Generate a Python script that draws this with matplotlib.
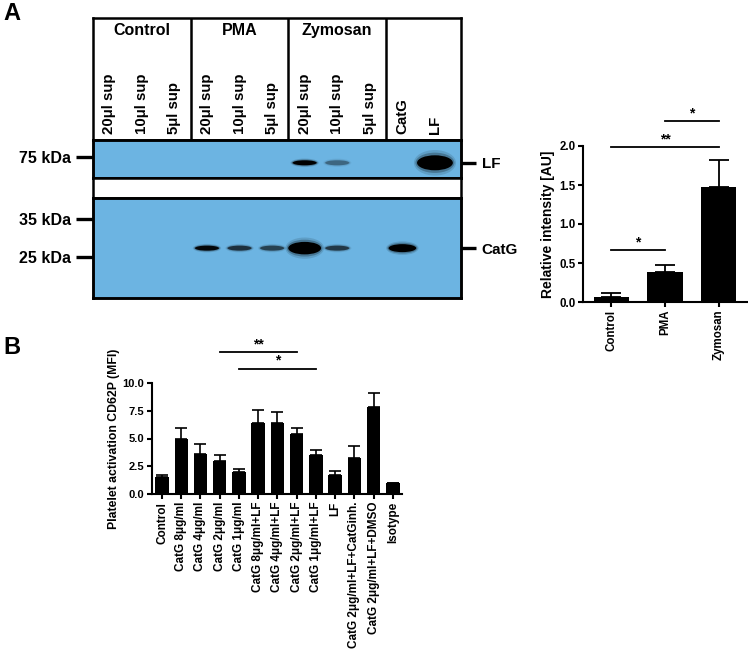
import math

import matplotlib

matplotlib.use("Agg")

import matplotlib.pyplot as plt
from matplotlib.patches import Ellipse

# --- western blot (panel A, left) ---
GROUPS = ["Control", "PMA", "Zymosan"]
LANE_LABELS = ["20μl sup", "10μl sup", "5μl sup"] * 3 + ["CatG", "LF"]
LF_SIGNAL = [0, 0, 0, 0, 0, 0, 1.0, 0.35, 0, 0, 3.0]
CATG_SIGNAL = [0, 0, 0, 0.95, 0.65, 0.55, 2.5, 0.6, 0, 1.6, 0]
LF_MARKERS = [75]
CATG_MARKERS = [35, 25]
LF_BAND_KDA = 71
CATG_BAND_KDA = 27
LF_RANGE = (62, 87)
CATG_RANGE = (17.4, 42)

# --- densitometry (panel A, right) ---
DENSITO_GROUPS = ["Control", "PMA", "Zymosan"]
DENSITO_MEAN = [0.07, 0.39, 1.47]
DENSITO_ERR = [0.04, 0.09, 0.35]
DENSITO_SIG = [(0, 1, 0.67, "*"), (0, 2, 1.99, "**"), (1, 2, 2.32, "*")]

# --- platelet activation (panel B) ---
ACT_LABELS = [
    "Control",
    "CatG 8μg/ml",
    "CatG 4μg/ml",
    "CatG 2μg/ml",
    "CatG 1μg/ml",
    "CatG 8μg/ml+LF",
    "CatG 4μg/ml+LF",
    "CatG 2μg/ml+LF",
    "CatG 1μg/ml+LF",
    "LF",
    "CatG 2μg/ml+LF+CatGinh.",
    "CatG 2μg/ml+LF+DMSO",
    "Isotype",
]
ACT_MEAN = [1.52, 4.94, 3.62, 2.93, 1.98, 6.44, 6.38, 5.45, 3.47, 1.68, 3.23, 7.84, 0.99]
ACT_ERR = [0.2, 1.0, 0.9, 0.55, 0.27, 1.1, 1.0, 0.5, 0.48, 0.36, 1.05, 1.3, 0.0]
ACT_SIG = [(3, 7, 12.8, "**"), (4, 8, 11.3, "*")]

W, H = 748, 654
BLOT_BLUE = "#6cb4e2"
LANE_XLIM = (-0.5, 10.8)

plt.rcParams["font.family"] = ["Liberation Sans", "DejaVu Sans"]
plt.rcParams["font.weight"] = "bold"
plt.rcParams["axes.labelweight"] = "bold"


def add_px_axes(fig, left, top, right, bottom):
    return fig.add_axes([left / W, 1 - bottom / H, (right - left) / W, (bottom - top) / H])


def style_frame(ax, lw=1.8):
    for spine in ax.spines.values():
        spine.set_linewidth(lw)
        spine.set_color("black")


def draw_bands(ax, signal, band_kda, kda_range, strip_px):
    lo, hi = kda_range
    frac = (math.log(band_kda) - math.log(lo)) / (math.log(hi) - math.log(lo))
    trans = ax.get_xaxis_transform()
    for lane, s in enumerate(signal):
        if s <= 0:
            continue
        extra = max(0.0, s - 1)
        width = 0.74 + 0.18 * extra
        height = (5 + 5 * extra) / strip_px
        alpha = min(1.0, s)
        # soft halo first, dense core last
        for grow, a in [(1.7, 0.12), (1.35, 0.25), (1.0, 1.0)]:
            ax.add_patch(Ellipse((lane, frac), width * (1 + (grow - 1) * 0.25),
                                 height * grow, transform=trans, color="black",
                                 alpha=alpha * a, lw=0))


def setup_strip(ax, markers, band_kda, band_label, kda_range):
    ax.set_facecolor(BLOT_BLUE)
    ax.set_xlim(*LANE_XLIM)
    ax.set_yscale("log")
    ax.set_ylim(*kda_range)
    ax.set_xticks([])
    ax.set_yticks(markers, labels=[f"{m} kDa" for m in markers])
    ax.set_yticks([], minor=True)
    ax.tick_params(axis="y", length=12, width=2.4, pad=3.5, labelsize=11.5)
    style_frame(ax)

    right = ax.twinx()
    right.set_yscale("log")
    right.set_ylim(*kda_range)
    right.set_yticks([band_kda], labels=[band_label])
    right.set_yticks([], minor=True)
    right.tick_params(axis="y", length=11, width=2.4, pad=4, labelsize=11)
    style_frame(right)


def add_significance(ax, sig, size=10):
    for start, end, height, label in sig:
        ax.plot([start, end], [height, height], color="black", lw=1.3, clip_on=False)
        ax.annotate(label, xy=((start + end) / 2, height), xytext=(0, 0.5),
                    textcoords="offset points", ha="center", va="bottom",
                    fontsize=size, annotation_clip=False)


def style_bar_axes(ax):
    for side in ["top", "right"]:
        ax.spines[side].set_visible(False)
    for side in ["left", "bottom"]:
        ax.spines[side].set_linewidth(1.5)
    ax.tick_params(direction="out", length=3.5, width=1.5, pad=2)


fig = plt.figure(figsize=(W / 100, H / 100), dpi=100)

# header with lane labels
ax_head = add_px_axes(fig, 93, 18, 461, 140)
ax_head.set_xlim(*LANE_XLIM)
ax_head.set_ylim(0, 1)
ax_head.set_xticks([])
ax_head.set_yticks([])
style_frame(ax_head)
for divider in [2.5, 5.5, 8.5]:
    ax_head.axvline(divider, color="black", lw=1.8)
for i, group in enumerate(GROUPS):
    ax_head.text(3 * i + 1, 0.9, group, ha="center", va="center", fontsize=11.5)
for lane, label in enumerate(LANE_LABELS):
    ax_head.text(lane, 0.05, label, rotation=90, ha="center", va="bottom", fontsize=10.8)

# LF strip
ax_lf = add_px_axes(fig, 93, 140, 461, 178)
setup_strip(ax_lf, LF_MARKERS, LF_BAND_KDA, "LF", LF_RANGE)
draw_bands(ax_lf, LF_SIGNAL, LF_BAND_KDA, LF_RANGE, 38)

# white gap
ax_gap = add_px_axes(fig, 93, 178, 461, 198)
ax_gap.set_xticks([])
ax_gap.set_yticks([])
style_frame(ax_gap)

# CatG strip
ax_catg = add_px_axes(fig, 93, 198, 461, 298)
setup_strip(ax_catg, CATG_MARKERS, CATG_BAND_KDA, "CatG", CATG_RANGE)
draw_bands(ax_catg, CATG_SIGNAL, CATG_BAND_KDA, CATG_RANGE, 100)

# densitometry bar chart
ax_den = add_px_axes(fig, 583, 146, 747, 302)
x_den = list(range(len(DENSITO_GROUPS)))
ax_den.bar(x_den, DENSITO_MEAN, width=0.65, color="black")
ax_den.errorbar(x_den, DENSITO_MEAN, yerr=[[0] * len(DENSITO_ERR), DENSITO_ERR],
                fmt="none", ecolor="black", elinewidth=1.3, capsize=7, capthick=1.3)
ax_den.set_xlim(-0.52, 2.52)
ax_den.set_ylim(0, 2.0)
ax_den.set_yticks([0.0, 0.5, 1.0, 1.5, 2.0])
ax_den.set_xticks(x_den, labels=DENSITO_GROUPS, rotation=90)
style_bar_axes(ax_den)
ax_den.tick_params(labelsize=8.3)
ax_den.set_ylabel("Relative intensity [AU]", fontsize=10, labelpad=3)
add_significance(ax_den, DENSITO_SIG)

# platelet activation bar chart
ax_act = add_px_axes(fig, 152, 383, 402, 494)
x_act = list(range(len(ACT_LABELS)))
ax_act.bar(x_act, ACT_MEAN, width=0.7, color="black")
ax_act.errorbar(x_act, ACT_MEAN, yerr=[[0] * len(ACT_ERR), ACT_ERR],
                fmt="none", ecolor="black", elinewidth=1.2, capsize=4.3, capthick=1.2)
ax_act.set_xlim(-0.52, 12.47)
ax_act.set_ylim(0, 10)
ax_act.set_yticks([0.0, 2.5, 5.0, 7.5, 10.0])
ax_act.set_xticks(x_act, labels=ACT_LABELS, rotation=90)
style_bar_axes(ax_act)
ax_act.tick_params(axis="x", labelsize=8.5)
ax_act.tick_params(axis="y", labelsize=8)
ax_act.set_ylabel("Platelet activation CD62P (MFI)", fontsize=8.8, labelpad=2)
add_significance(ax_act, ACT_SIG)

fig.text(3 / W, 1 - 2 / H, "A", fontsize=17, va="top", ha="left")
fig.text(3 / W, 1 - 336 / H, "B", fontsize=17, va="top", ha="left")

fig.savefig("out.png", dpi=100)
plt.close(fig)
